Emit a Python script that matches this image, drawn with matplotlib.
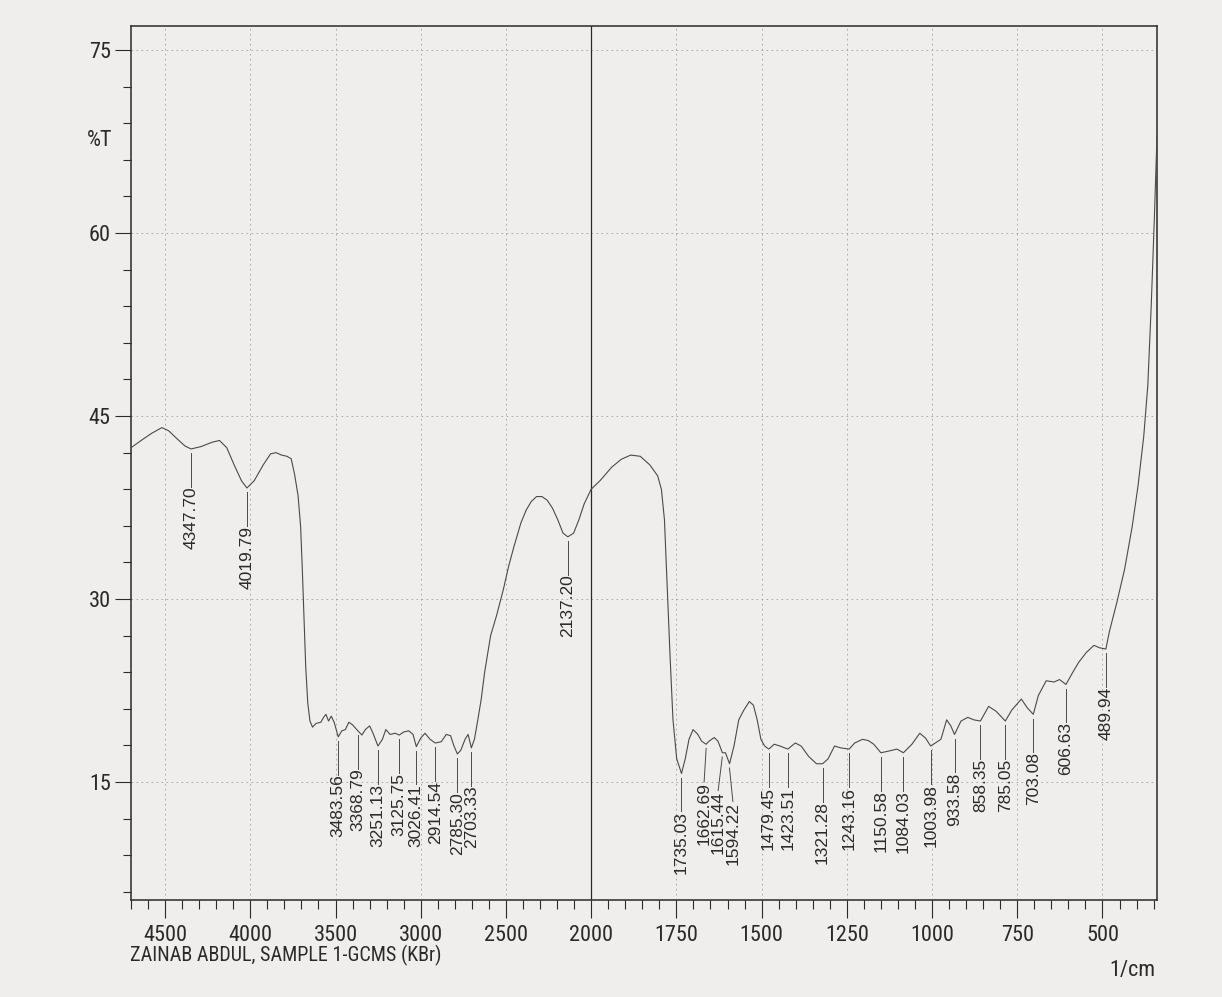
import numpy as np
import matplotlib
matplotlib.use("Agg")
import matplotlib.pyplot as plt

# --- spectrum (wavenumber 1/cm, %T) ---
wavenumber = [
    4700, 4630, 4577, 4519, 4480, 4427, 4384, 4348, 4288, 4224, 4181, 4138, 4095, 4052,
    4020, 3977, 3924, 3881, 3849, 3817, 3785, 3760, 3740, 3720, 3705, 3695, 3685, 3675,
    3663, 3650, 3635, 3615, 3586, 3570, 3556, 3541, 3525, 3508, 3484, 3463, 3442, 3422,
    3401, 3385, 3369, 3345, 3325, 3300, 3280, 3251, 3225, 3205, 3180, 3150, 3126, 3100,
    3070, 3045, 3026, 3000, 2975, 2945, 2915, 2880, 2850, 2825, 2805, 2785, 2765, 2740,
    2722, 2703, 2685, 2665, 2645, 2625, 2590, 2556, 2515, 2484, 2453, 2412, 2381, 2351,
    2320, 2289, 2258, 2227, 2196, 2165, 2137, 2103, 2072, 2041, 2000,
    1974, 1940, 1912, 1884, 1856, 1828, 1805, 1794, 1785, 1777, 1769, 1760, 1749, 1735,
    1724, 1713, 1701, 1687, 1676, 1663, 1654, 1639, 1628, 1615, 1606, 1594, 1581, 1567,
    1552, 1536, 1524, 1513, 1502, 1491, 1479, 1463, 1446, 1423, 1401, 1384, 1362, 1339,
    1321, 1305, 1286, 1268, 1243, 1227, 1204, 1187, 1171, 1150, 1125, 1103, 1084, 1059,
    1036, 1019, 1004, 985, 974, 957, 945, 934, 915, 895, 878, 858, 834, 812,
    785, 766, 738, 721, 703, 688, 665, 642, 626, 607, 587, 570, 548, 525,
    508, 490, 480, 458, 435, 413, 396, 379, 367, 357, 348, 340,
]
transmittance = [
    42.4, 43.1, 43.6, 44.05, 43.8, 43.1, 42.55, 42.3, 42.5, 42.85, 43.0, 42.4, 41.0, 39.7,
    39.1, 39.7, 41.0, 41.9, 42.0, 41.8, 41.7, 41.5, 40.2, 38.5, 36.0, 32.5, 28.5, 24.5,
    21.5, 20.0, 19.5, 19.8, 19.9, 20.3, 20.55, 20.0, 20.4, 19.9, 18.7, 19.2, 19.3, 19.9,
    19.7, 19.45, 19.2, 18.85, 19.3, 19.6, 19.0, 17.95, 18.5, 19.3, 18.9, 19.0, 18.85, 19.1,
    19.2, 18.9, 17.9, 18.6, 19.0, 18.5, 18.2, 18.3, 18.9, 18.8, 17.95, 17.3, 17.6, 18.5,
    18.9, 17.8, 18.5, 20.1, 21.8, 24.0, 27.0, 28.6, 30.8, 32.7, 34.3, 36.25, 37.3, 38.0,
    38.4, 38.4, 38.1, 37.45, 36.5, 35.4, 35.1, 35.4, 36.5, 37.8, 39.0,
    39.7, 40.8, 41.45, 41.8, 41.7, 41.0, 40.1, 39.0, 36.5, 31.1, 25.6, 20.1, 16.9, 15.7,
    16.9, 18.5, 19.3, 18.9, 18.35, 18.1, 18.35, 18.65, 18.35, 17.4, 17.4, 16.5, 17.95, 20.1,
    20.9, 21.6, 21.3, 20.1, 18.5, 17.95, 17.7, 18.1, 17.95, 17.7, 18.2, 17.95, 17.1, 16.5,
    16.5, 16.9, 17.95, 17.8, 17.7, 18.2, 18.5, 18.4, 18.1, 17.4, 17.55, 17.7, 17.4, 18.1,
    19.0, 18.6, 17.95, 18.3, 18.5, 20.1, 19.6, 18.9, 20.0, 20.3, 20.1, 20.0, 21.2, 20.8,
    20.0, 20.9, 21.8, 21.1, 20.55, 22.1, 23.3, 23.2, 23.4, 23.0, 24.0, 24.8, 25.6, 26.2,
    26.0, 25.9, 27.3, 29.7, 32.45, 35.9, 39.2, 43.3, 47.5, 54.0, 61.0, 68.0,
]

# labelled peaks
peak_wn = [4347.70, 4019.79, 3483.56, 3368.79, 3251.13, 3125.75, 3026.41, 2914.54,
           2785.30, 2703.33, 2137.20, 1735.03, 1662.69, 1615.44, 1594.22, 1479.45,
           1423.51, 1321.28, 1243.16, 1150.58, 1084.03, 1003.98, 933.58, 858.35,
           785.05, 703.08, 606.63, 489.94]
peak_t = [42.3, 39.1, 18.7, 19.2, 17.95, 18.85, 17.9, 18.2,
          17.3, 17.8, 35.1, 15.7, 18.1, 17.4, 16.5, 17.7,
          17.7, 16.5, 17.7, 17.4, 17.4, 17.95, 18.9, 20.0,
          20.0, 20.55, 23.0, 25.9]

x_major = [4500, 4000, 3500, 3000, 2500, 2000, 1750, 1500, 1250, 1000, 750, 500]
y_major = [15, 30, 45, 60, 75]

# small sideways shifts so crowded labels don't collide
label_shift = {1662.69: 6, 1615.44: 12, 1594.22: -10}

PAPER = "#efeeec"
INK = "#2a2a2a"
CURVE = "#4a4a4a"
GRID = "#a0a0a0"
TICK_FONT = "Roboto Condensed"
PEAK_FONT = "Liberation Sans"


def fwd(w):
    # 2000 1/cm scale break: region below 2000 is drawn twice as wide
    w = np.asarray(w, dtype=float)
    return np.where(w <= 2000, 2 * w, w + 2000)


def inv(u):
    u = np.asarray(u, dtype=float)
    return np.where(u <= 4000, u / 2, u - 2000)


fig = plt.figure(figsize=(12.22, 9.97), dpi=100, facecolor=PAPER)
ax = fig.add_axes([131 / 1222, 1 - 900 / 997, 1026 / 1222, 874 / 997], facecolor=PAPER)

ax.set_xscale("function", functions=(fwd, inv))
ax.set_xlim(4700, 340)
ax.set_ylim(5.33, 76.97)

# grid + scale-break line
for xv in x_major:
    if xv != 2000:
        ax.axvline(xv, color=GRID, lw=0.6, ls=(0, (2, 4)), zorder=1)
for yv in y_major:
    ax.axhline(yv, color=GRID, lw=0.6, ls=(0, (2, 4)), zorder=1)
ax.axvline(2000, color=INK, lw=0.9, zorder=2)

ax.plot(wavenumber, transmittance, color=CURVE, lw=0.8, zorder=3)

# peak tags
for wn, t in zip(peak_wn, peak_t):
    wt = wn + label_shift.get(wn, 0)
    ax.plot([wn, wt], [t - 0.35, t - 3.1], color=CURVE, lw=0.7, zorder=3)
    ax.text(wt, t - 3.1, f"{wn:.2f}", rotation=90, ha="center", va="top",
            fontsize=12.5, family=PEAK_FONT, color=INK)

# ticks
x_minor = [v for v in list(range(4700, 2000, -100)) + list(range(1950, 330, -50))
           if v not in x_major]
y_minor = [v for v in range(6, 76, 3) if v not in y_major]
ax.set_xticks(x_major)
ax.set_xticks(x_minor, minor=True)
ax.set_yticks(y_major)
ax.set_yticks(y_minor, minor=True)
ax.tick_params(axis="x", which="major", direction="out", length=13, width=0.8,
               pad=5, colors=INK, labelsize=16)
ax.tick_params(axis="x", which="minor", direction="out", length=6.5, width=0.8, colors=INK)
ax.tick_params(axis="y", which="major", direction="out", length=11.5, width=0.8,
               pad=3, colors=INK, labelsize=16)
ax.tick_params(axis="y", which="minor", direction="out", length=6, width=0.8, colors=INK)
ax.xaxis.set_major_formatter(plt.FuncFormatter(lambda v, p: f"{v:.0f}"))
for lab in ax.get_xticklabels() + ax.get_yticklabels():
    lab.set_family(TICK_FONT)

for sp in ax.spines.values():
    sp.set_color(INK)
    sp.set_linewidth(1.1)

fig.text(100 / 1222, 1 - 140 / 997, "%T", ha="center", va="center",
         fontsize=16, family=TICK_FONT, color=INK)
fig.text(130 / 1222, 1 - 955 / 997, "ZAINAB ABDUL, SAMPLE 1-GCMS (KBr)",
         ha="left", va="center", fontsize=14.5, family=TICK_FONT, color=INK)
fig.text(1155 / 1222, 1 - 970 / 997, "1/cm", ha="right", va="center",
         fontsize=16, family=TICK_FONT, color=INK)

fig.savefig("out.png", dpi=100, facecolor=PAPER)
